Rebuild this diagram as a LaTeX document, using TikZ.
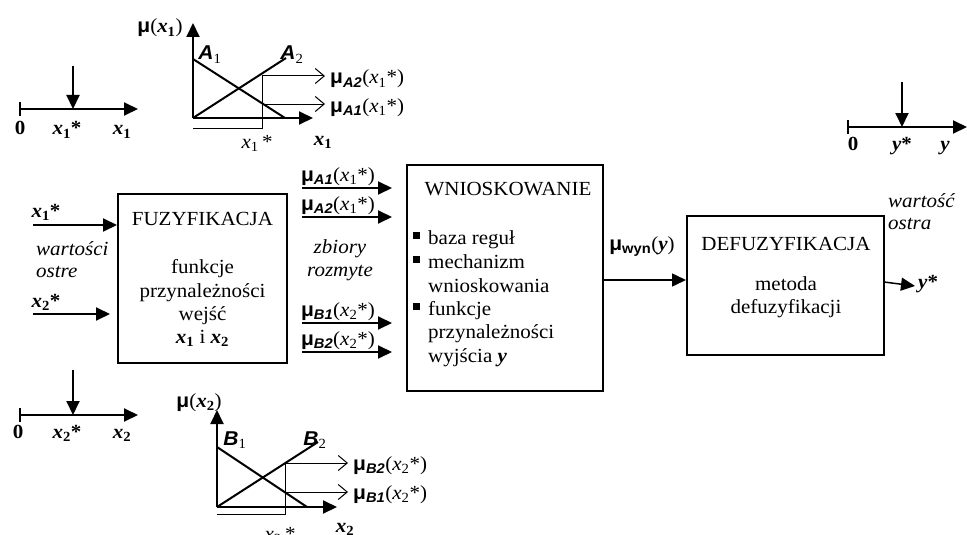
\documentclass[tikz,border=0pt]{standalone}
\usepackage{fontspec}
\setmainfont{Liberation Serif}[FakeStretch=1.05]
\setsansfont{Liberation Sans}[FakeStretch=1.05]
\usetikzlibrary{arrows.meta}
\newcommand\mysq{\raisebox{5pt}{\rule{7pt}{7pt}}}
\newcommand\mub{{\sffamily\bfseries μ}}
\newcommand\subsf[1]{\textsubscript{\sffamily\bfseries\itshape #1}}
\newcommand\bx[1]{\textbf{\textit{x}}\textsubscript{\textbf{#1}}}
\newcommand\rx[1]{\textit{x}\textsubscript{#1}}
\tikzset{
  every node/.style={font=\fontsize{20}{23}\selectfont, inner sep=0pt},
  blockbox/.style={draw, line width=2pt, inner sep=0pt},
  axisline/.style={line width=2pt},
  bigarrow/.style={line width=2pt, -{Triangle[length=14pt,width=13pt]}},
  openarrow/.style={line width=1pt, -{Straight Barb[length=9pt,width=15pt,line width=1pt]}},
  thinline/.style={line width=1pt},
  memline/.style={line width=2pt},
  txt/.style={anchor=base},
  txtw/.style={anchor=base west},
}
\begin{document}
\begin{tikzpicture}[x=1pt,y=-1pt]
\clip (0,0) rectangle (967,535);

% ---------- top-left axis ----------
\coordinate (a1o) at (20,109);
\coordinate (a1e) at (138,109);
\coordinate (a1d) at (73,66);
\coordinate (a1p) at (73,109);
\draw[axisline] (20,102) -- (20,116);
\draw[bigarrow] (a1o) -- (a1e);
\draw[bigarrow] (a1d) -- (a1p);
\node[txt] (a1l0) at (20,135) {\textbf{0}};
\node[txt] (a1ls) at (67,135) {\bx{1}\textbf{*}};
\node[txt] (a1lx) at (122,135) {\bx{1}};

% ---------- top membership graph ----------
\coordinate (g1o) at (193,118);
\coordinate (g1y) at (193,23);
\coordinate (g1x) at (313,118);
\draw[bigarrow] (g1o) -- (g1y);
\draw[bigarrow] (g1o) -- (g1x);
\draw[memline] (193,59) -- (285,118);
\draw[memline] (g1o) -- (286,58);
\coordinate (g1b) at (262,128);
\coordinate (g1u) at (262,76);
\coordinate (g1l) at (262,104);
\draw[thinline] (193,128) -- (g1b) -- (g1u);
\coordinate (g1ue) at (325,76);
\coordinate (g1le) at (325,104);
\draw[openarrow] (g1u) -- (g1ue);
\draw[openarrow] (g1l) -- (g1le);
\node[txt] (g1mu) at (160,33) {\mub(\bx{1})};
\node[txt] (g1A1) at (210,60) {{\sffamily\bfseries\itshape A}\textsubscript{1}};
\node[txt] (g1A2) at (292,60) {{\sffamily\bfseries\itshape A}\textsubscript{2}};
\node[txtw] (g1m2) at (330,84) {\mub\subsf{A2}(\rx{1}*)};
\node[txtw] (g1m1) at (330,112) {\mub\subsf{A1}(\rx{1}*)};
\node[txt] (g1xs) at (257,148) {\rx{1}\,*};
\node[txt] (g1xx) at (323,145) {\bx{1}};

% ---------- bottom-left axis ----------
\coordinate (a2o) at (20,415);
\coordinate (a2e) at (138,415);
\coordinate (a2d) at (73,370);
\coordinate (a2p) at (73,415);
\draw[axisline] (20,408) -- (20,422);
\draw[bigarrow] (a2o) -- (a2e);
\draw[bigarrow] (a2d) -- (a2p);
\node[txt] (a2l0) at (18,438) {\textbf{0}};
\node[txt] (a2ls) at (67,438) {\bx{2}\textbf{*}};
\node[txt] (a2lx) at (122,438) {\bx{2}};

% ---------- bottom membership graph ----------
\coordinate (g2o) at (217,507);
\coordinate (g2y) at (217,410);
\coordinate (g2x) at (337,507);
\draw[bigarrow] (g2o) -- (g2y);
\draw[bigarrow] (g2o) -- (g2x);
\draw[memline] (217,447) -- (307,507);
\draw[memline] (g2o) -- (318,442);
\coordinate (g2b) at (285,514);
\coordinate (g2u) at (285,463);
\coordinate (g2l) at (285,492);
\draw[thinline] (217,514) -- (g2b) -- (g2u);
\coordinate (g2ue) at (348,463);
\coordinate (g2le) at (348,492);
\draw[openarrow] (g2u) -- (g2ue);
\draw[openarrow] (g2l) -- (g2le);
\node[txt] (g2mu) at (199,407) {\mub(\bx{2})};
\node[txt] (g2B1) at (235,445) {{\sffamily\bfseries\itshape B}\textsubscript{1}};
\node[txt] (g2B2) at (315,445) {{\sffamily\bfseries\itshape B}\textsubscript{2}};
\node[txtw] (g2m2) at (353,470) {\mub\subsf{B2}(\rx{2}*)};
\node[txtw] (g2m1) at (353,499) {\mub\subsf{B1}(\rx{2}*)};
\node[txt] (g2xs) at (280,540) {\rx{2}\,*};
\node[txt] (g2xx) at (345,532) {\bx{2}};

% ---------- top-right axis ----------
\coordinate (a3o) at (848,127);
\coordinate (a3e) at (967,127);
\coordinate (a3d) at (902,82);
\coordinate (a3p) at (902,127);
\draw[axisline] (848,120) -- (848,134);
\draw[bigarrow] (a3o) -- (a3e);
\draw[bigarrow] (a3d) -- (a3p);
\node[txt] (a3l0) at (853,150) {\textbf{0}};
\node[txt] (a3ls) at (902,150) {\textbf{\textit{y}*}};
\node[txt] (a3ly) at (945,150) {\textbf{\textit{y}}};

% ---------- FUZYFIKACJA ----------
\node[blockbox, minimum width=169pt, minimum height=169pt] (fuz) at (202.5,278.5) {};
\node[txt] (fuzT) at (202.5,225) {FUZYFIKACJA};
\node[txt] (fuz1) at (202.5,273) {funkcje};
\node[txt] (fuz2) at (202.5,297) {przynależności};
\node[txt] (fuz3) at (202.5,320) {wejść};
\node[txt] (fuz4) at (202.5,343) {\bx{1} i \bx{2}};

\coordinate (in1) at (33,225);
\coordinate (in2) at (33,314);
\coordinate (in2e) at (110,314);
\draw[bigarrow] (in1) -- (fuz.west |- in1);
\draw[bigarrow] (in2) -- (in2e);
\node[txt] (in1l) at (46,217) {\bx{1}\textbf{*}};
\node[txt] (in2l) at (46,307) {\bx{2}\textbf{*}};
\node[txtw] (wo1) at (36,255) {\textit{wartości}};
\node[txtw] (wo2) at (36,277) {\textit{ostre}};

% ---------- fuzzy sets between blocks ----------
\coordinate (f1s) at (302,188); \coordinate (f1e) at (392,188);
\coordinate (f2s) at (302,217); \coordinate (f2e) at (392,217);
\coordinate (f3s) at (302,323); \coordinate (f3e) at (392,323);
\coordinate (f4s) at (302,352); \coordinate (f4e) at (392,352);
\draw[bigarrow] (f1s) -- (f1e);
\draw[bigarrow] (f2s) -- (f2e);
\draw[bigarrow] (f3s) -- (f3e);
\draw[bigarrow] (f4s) -- (f4e);
\node[txt] (f1l) at (338,181) {\mub\subsf{A1}(\rx{1}*)};
\node[txt] (f2l) at (338,210) {\mub\subsf{A2}(\rx{1}*)};
\node[txt] (f3l) at (338,316) {\mub\subsf{B1}(\rx{2}*)};
\node[txt] (f4l) at (338,345) {\mub\subsf{B2}(\rx{2}*)};
\node[txt] (zr1) at (340,253) {\textit{zbiory}};
\node[txt] (zr2) at (340,276) {\textit{rozmyte}};

% ---------- WNIOSKOWANIE ----------
\node[blockbox, minimum width=196pt, minimum height=226pt] (win) at (505,278) {};
\node[txt] (winT) at (508,195) {WNIOSKOWANIE};
\node[txtw] (w1) at (413,244) {\mysq\hspace{8pt}baza reguł};
\node[txtw] (w2) at (413,268) {\mysq\hspace{8pt}mechanizm};
\node[txtw] (w3) at (428,292) {wnioskowania};
\node[txtw] (w4) at (413,315) {\mysq\hspace{8pt}funkcje};
\node[txtw] (w5) at (428,338) {przynależności};
\node[txtw] (w6) at (428,362) {wyjścia \textbf{\textit{y}}};

% ---------- DEFUZYFIKACJA ----------
\node[blockbox, minimum width=197pt, minimum height=139pt] (def) at (785.5,285.5) {};
\node[txt] (defT) at (786,250) {DEFUZYFIKACJA};
\node[txt] (def1) at (786,290) {metoda};
\node[txt] (def2) at (786,313) {defuzyfikacji};

\draw[line width=1.5pt, -{Triangle[length=14pt,width=13pt]}] (win.east |- 0,280) -- (def.west |- 0,280);
\node[txt] (muw) at (642,250) {\mub\textsubscript{\sffamily\bfseries wyn}(\textbf{\textit{y}})};

\coordinate (outs) at (884,282);
\coordinate (oute) at (915,286);
\draw[line width=1.5pt, -{Triangle[length=14pt,width=13pt]}] (outs) -- (oute);
\node[txtw] (outl) at (918,288) {\textbf{\textit{y}*}};
\node[txtw] (wa1) at (888,207) {\textit{wartość}};
\node[txtw] (wa2) at (888,229) {\textit{ostra}};
\end{tikzpicture}
\end{document}
